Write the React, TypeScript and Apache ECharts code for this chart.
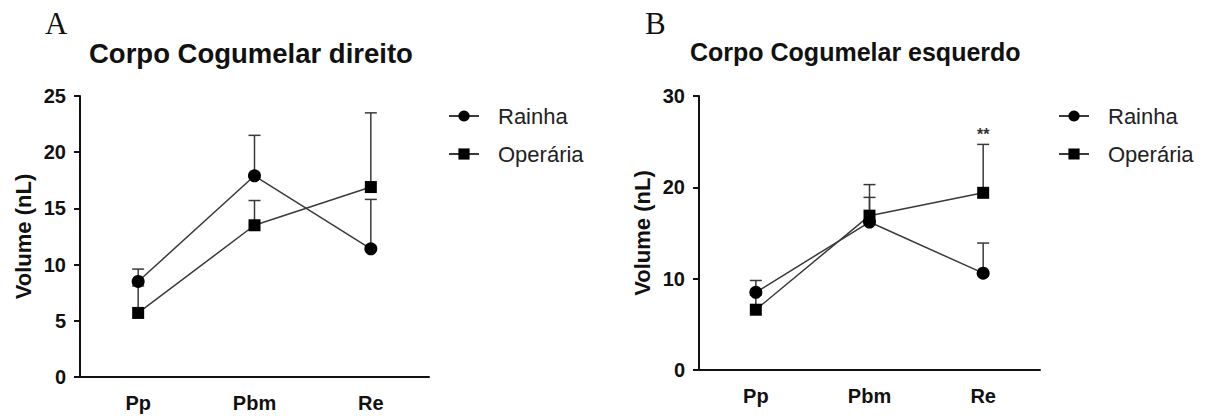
import React, { useEffect, useRef } from "react";
import * as echarts from "echarts";

// Mushroom body volumes (nL), mean with upper SD, per developmental stage
const categories = ["Pp", "Pbm", "Re"];

// Panel A — right mushroom body
const rainhaDireito = [8.5, 17.9, 11.4];
const rainhaDireitoSd = [1.1, 3.6, 4.4];
const operariaDireito = [5.7, 13.5, 16.9];
const operariaDireitoSd = [2.4, 2.2, 6.6];

// Panel B — left mushroom body
const rainhaEsquerdo = [8.5, 16.2, 10.6];
const rainhaEsquerdoSd = [1.3, 2.7, 3.3];
const operariaEsquerdo = [6.6, 16.9, 19.4];
const operariaEsquerdoSd = [1.6, 3.4, 5.3];
const operariaEsquerdoSig = ["", "", "**"];

const yTicksA = { min: 0, max: 25, interval: 5 };
const yTicksB = { min: 0, max: 30, interval: 10 };

const SANS = "'Liberation Sans', Arial, Helvetica, sans-serif";
const SERIF = "'Liberation Serif', 'Times New Roman', serif";
const INK = "#111";
const LINE = "#3a3a3a";

function errorData(mean: number[], sd: number[]) {
  return mean.map((m, i) => [i, m, m + sd[i]]);
}

function errorRenderer(sig?: string[]) {
  return (params: any, api: any) => {
    const x = api.value(0);
    const p0 = api.coord([x, api.value(1)]);
    const p1 = api.coord([x, api.value(2)]);
    const half = 6;
    const children: any[] = [
      {
        type: "line",
        shape: { x1: p0[0], y1: p0[1], x2: p1[0], y2: p1[1] },
        style: { stroke: LINE, lineWidth: 1.5 },
      },
      {
        type: "line",
        shape: { x1: p1[0] - half, y1: p1[1], x2: p1[0] + half, y2: p1[1] },
        style: { stroke: LINE, lineWidth: 1.5 },
      },
    ];
    const s = sig ? sig[params.dataIndex] : "";
    if (s) {
      children.push({
        type: "text",
        x: p1[0],
        y: p1[1] - 2,
        style: {
          text: s,
          fill: "#333",
          font: `bold 16px ${SANS}`,
          align: "center",
          verticalAlign: "bottom",
        },
      });
    }
    return { type: "group", children };
  };
}

function xAxisFor(gridIndex: number) {
  return {
    gridIndex,
    type: "category",
    data: categories,
    boundaryGap: true,
    axisLine: { lineStyle: { color: INK, width: 2 } },
    axisTick: { alignWithLabel: true, length: 6, lineStyle: { color: INK, width: 2 } },
    axisLabel: { color: INK, fontFamily: SANS, fontWeight: "bold", fontSize: 20, margin: 16 },
    splitLine: { show: false },
  };
}

function yAxisFor(gridIndex: number, t: { min: number; max: number; interval: number }) {
  return {
    gridIndex,
    type: "value",
    min: t.min,
    max: t.max,
    interval: t.interval,
    name: "Volume (nL)",
    nameLocation: "middle",
    nameGap: 46,
    nameTextStyle: { color: INK, fontFamily: SANS, fontWeight: "bold", fontSize: 22 },
    axisLine: { show: true, lineStyle: { color: INK, width: 2 } },
    axisTick: { show: true, length: 6, lineStyle: { color: INK, width: 2 } },
    axisLabel: { color: INK, fontFamily: SANS, fontWeight: "bold", fontSize: 20, margin: 14 },
    splitLine: { show: false },
  };
}

function lineSeries(name: string, idx: number, data: number[], symbol: string, size: number) {
  return {
    name,
    type: "line",
    xAxisIndex: idx,
    yAxisIndex: idx,
    data,
    symbol,
    symbolSize: size,
    showAllSymbol: true,
    z: 3,
    itemStyle: { color: "#000", borderWidth: 0 },
    lineStyle: { color: LINE, width: 1.5 },
  };
}

function errorSeries(name: string, idx: number, mean: number[], sd: number[], sig?: string[]) {
  return {
    name: name + " DP",
    type: "custom",
    xAxisIndex: idx,
    yAxisIndex: idx,
    data: errorData(mean, sd),
    encode: { x: 0, y: [1, 2] },
    renderItem: errorRenderer(sig),
    z: 2,
    silent: true,
  };
}

function legendAt(left: number) {
  return {
    orient: "vertical",
    left,
    top: 105,
    padding: 0,
    data: ["Rainha", "Operária"],
    itemWidth: 30,
    itemHeight: 14,
    itemGap: 16,
    selectedMode: false,
    textStyle: {
      color: "#222",
      fontFamily: SANS,
      fontSize: 22,
      lineHeight: 22,
      padding: [0, 0, 0, 14],
    },
  };
}

export default function App() {
  const ref = useRef<HTMLDivElement>(null);

  useEffect(() => {
    if (!ref.current) return;
    const chart = echarts.init(ref.current, undefined, { renderer: "svg" });
    chart.setOption({
      animation: false,
      backgroundColor: "#fff",
      title: [
        {
          text: "A",
          left: 45,
          top: 8,
          padding: 0,
          textStyle: { fontFamily: SERIF, fontWeight: "normal", fontSize: 31, color: INK },
        },
        {
          text: "Corpo Cogumelar direito",
          left: 89,
          top: 39,
          padding: 0,
          textStyle: { fontFamily: SANS, fontWeight: "bold", fontSize: 27.5, color: INK },
        },
        {
          text: "B",
          left: 645,
          top: 8,
          padding: 0,
          textStyle: { fontFamily: SERIF, fontWeight: "normal", fontSize: 31, color: INK },
        },
        {
          text: "Corpo Cogumelar esquerdo",
          left: 690,
          top: 39,
          padding: 0,
          textStyle: { fontFamily: SANS, fontWeight: "bold", fontSize: 25, color: INK },
        },
      ],
      legend: [legendAt(448), legendAt(1058)],
      grid: [
        { left: 80, top: 96, width: 349, height: 281 },
        { left: 699, top: 96, width: 341, height: 274 },
      ],
      xAxis: [xAxisFor(0), xAxisFor(1)],
      yAxis: [yAxisFor(0, yTicksA), yAxisFor(1, yTicksB)],
      series: [
        lineSeries("Rainha", 0, rainhaDireito, "circle", 13),
        lineSeries("Operária", 0, operariaDireito, "rect", 12),
        lineSeries("Rainha", 1, rainhaEsquerdo, "circle", 13),
        lineSeries("Operária", 1, operariaEsquerdo, "rect", 12),
        errorSeries("Rainha", 0, rainhaDireito, rainhaDireitoSd),
        errorSeries("Operária", 0, operariaDireito, operariaDireitoSd),
        errorSeries("Rainha", 1, rainhaEsquerdo, rainhaEsquerdoSd),
        errorSeries("Operária", 1, operariaEsquerdo, operariaEsquerdoSd, operariaEsquerdoSig),
      ],
    });
    return () => chart.dispose();
  }, []);

  return <div ref={ref} style={{ width: 1210, height: 416, position: "absolute", left: 0, top: 0 }} />;
}
